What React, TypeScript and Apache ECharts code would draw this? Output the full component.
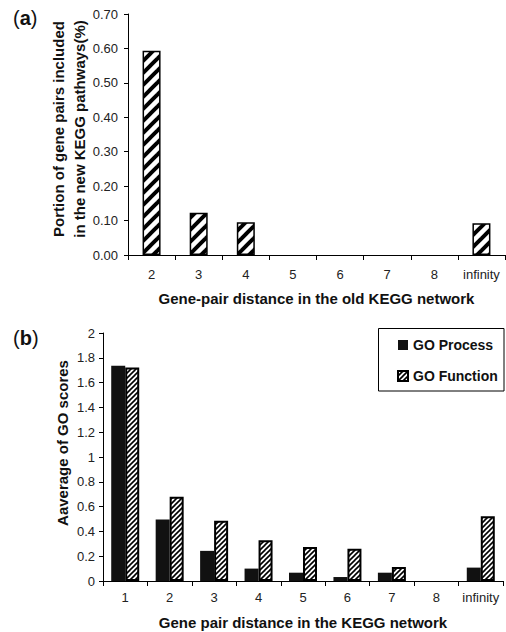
import React, { useEffect, useRef } from "react";
import * as echarts from "echarts";

const aCategories = ["2", "3", "4", "5", "6", "7", "8", "infinity"];
const aValues = [0.593, 0.123, 0.095, 0, 0, 0, 0, 0.092];
const aTicks = { min: 0, max: 0.7, interval: 0.1 };

const bCategories = ["1", "2", "3", "4", "5", "6", "7", "8", "infinity"];
const goProcess = [1.735, 0.496, 0.243, 0.1, 0.067, 0.032, 0.067, 0, 0.108];
const goFunction = [1.722, 0.679, 0.485, 0.329, 0.275, 0.26, 0.113, 0, 0.523];
const bTicks = { min: 0, max: 2, interval: 0.2 };

const FONT = "'Liberation Sans', Arial, Helvetica, sans-serif";

function makeHatch(size: number, lw: number) {
  const c = document.createElement("canvas");
  c.width = size;
  c.height = size;
  const ctx = c.getContext("2d")!;
  ctx.fillStyle = "#fff";
  ctx.fillRect(0, 0, size, size);
  ctx.strokeStyle = "#000";
  ctx.lineWidth = lw;
  for (const k of [-size, 0, size]) {
    ctx.beginPath();
    ctx.moveTo(k - 2, size + 2);
    ctx.lineTo(k + size + 2, -2);
    ctx.stroke();
  }
  return c;
}

const noZero = (arr: number[]) => arr.map((v) => (v === 0 ? "-" : v));

export default function App() {
  const ref = useRef<HTMLDivElement>(null);
  useEffect(() => {
    if (!ref.current) return;
    const chart = echarts.init(ref.current, null, { renderer: "svg" });
    const bigHatch = makeHatch(12, 4);
    const fineHatch = makeHatch(5, 1.6);
    const axisLine = { show: true, lineStyle: { color: "#000", width: 1 } };
    const tickLabel = { color: "#222", fontSize: 13, fontFamily: FONT };
    const titleStyle = { color: "#111", fontSize: 15, fontWeight: "bold" as const, fontFamily: FONT };
    const option: any = {
      animation: false,
      backgroundColor: "#fff",
      textStyle: { fontFamily: FONT },
      grid: [
        { left: 128, top: 14, width: 377, height: 241, containLabel: false, outerBoundsMode: "none" },
        { left: 103, top: 333, width: 400, height: 248, containLabel: false, outerBoundsMode: "none" },
      ],
      xAxis: [
        {
          type: "category",
          gridIndex: 0,
          data: aCategories,
          axisLine,
          axisTick: { show: true, length: 5, alignWithLabel: false, lineStyle: { color: "#000" } },
          axisLabel: { ...tickLabel, margin: 13, interval: 0 },
          name: "Gene-pair distance in the old KEGG network",
          nameLocation: "middle",
          nameGap: 36,
          nameTextStyle: titleStyle,
        },
        {
          type: "category",
          gridIndex: 1,
          data: bCategories,
          axisLine,
          axisTick: { show: true, length: 5, alignWithLabel: false, lineStyle: { color: "#000" } },
          axisLabel: { ...tickLabel, margin: 10, interval: 0 },
          name: "Gene pair distance in the KEGG network",
          nameLocation: "middle",
          nameGap: 34,
          nameTextStyle: titleStyle,
        },
      ],
      yAxis: [
        {
          type: "value",
          gridIndex: 0,
          ...aTicks,
          axisLine,
          axisTick: { show: true, length: 4, lineStyle: { color: "#000" } },
          axisLabel: { ...tickLabel, margin: 10, formatter: (v: number) => v.toFixed(2) },
          splitLine: { show: false },
        },
        {
          type: "value",
          gridIndex: 1,
          ...bTicks,
          axisLine,
          axisTick: { show: true, length: 4, lineStyle: { color: "#000" } },
          axisLabel: { ...tickLabel, margin: 8 },
          splitLine: { show: false },
        },
      ],
      legend: {
        orient: "vertical",
        left: 378,
        top: 328,
        icon: "rect",
        itemWidth: 10,
        itemHeight: 10,
        itemGap: 17,
        padding: [10, 4, 8, 19],
        borderWidth: 0,
        textStyle: { color: "#111", fontSize: 14, fontWeight: "bold", fontFamily: FONT },
        data: ["GO Process", "GO Function"],
      },
      series: [
        {
          type: "bar",
          name: "distance",
          xAxisIndex: 0,
          yAxisIndex: 0,
          data: noZero(aValues),
          barWidth: 18,
          itemStyle: {
            color: { image: bigHatch, repeat: "repeat", imageWidth: 12, imageHeight: 12 },
            borderColor: "#000",
            borderWidth: 1.5,
          },
        },
        {
          type: "bar",
          name: "GO Process",
          xAxisIndex: 1,
          yAxisIndex: 1,
          data: noZero(goProcess),
          barWidth: 14,
          barGap: "0%",
          itemStyle: { color: "#111", borderColor: "#000", borderWidth: 0 },
        },
        {
          type: "bar",
          name: "GO Function",
          xAxisIndex: 1,
          yAxisIndex: 1,
          data: noZero(goFunction),
          barWidth: 14,
          barGap: "0%",
          itemStyle: {
            color: { image: fineHatch, repeat: "repeat", imageWidth: 5, imageHeight: 5 },
            borderColor: "#000",
            borderWidth: 2,
          },
        },
      ],
      graphic: [
        {
          type: "rect",
          shape: { x: 378.5, y: 328.5, width: 125.5, height: 62.5 },
          style: { fill: "none", stroke: "#000", lineWidth: 1 },
          silent: true,
        },
        {
          type: "text",
          x: 68.5,
          y: 129,
          rotation: Math.PI / 2,
          style: {
            text: "Portion of gene pairs included\nin the new KEGG pathways(%)",
            fill: "#111",
            font: `bold 15px ${FONT}`,
            lineHeight: 21,
            align: "center",
            verticalAlign: "middle",
            textAlign: "center",
            textVerticalAlign: "middle",
          },
        },
        {
          type: "text",
          x: 62,
          y: 443,
          rotation: Math.PI / 2,
          style: {
            text: "Aaverage of GO scores",
            fill: "#111",
            font: `bold 15px ${FONT}`,
            align: "center",
            verticalAlign: "middle",
            textAlign: "center",
            textVerticalAlign: "middle",
          },
        },
        {
          type: "text",
          x: 13,
          y: 18,
          style: {
            text: "{n|(}{b|a}{n|)}",
            verticalAlign: "middle",
            textVerticalAlign: "middle",
            rich: {
              n: { fontSize: 20, fontFamily: FONT, fill: "#111", color: "#111" },
              b: { fontSize: 20, fontWeight: "bold", fontFamily: FONT, fill: "#111", color: "#111" },
            },
          },
        },
        {
          type: "text",
          x: 13,
          y: 338,
          style: {
            text: "{n|(}{b|b}{n|)}",
            verticalAlign: "middle",
            textVerticalAlign: "middle",
            rich: {
              n: { fontSize: 20, fontFamily: FONT, fill: "#111", color: "#111" },
              b: { fontSize: 20, fontWeight: "bold", fontFamily: FONT, fill: "#111", color: "#111" },
            },
          },
        },
      ],
    };
    chart.setOption(option);
    return () => chart.dispose();
  }, []);
  return (
    <div
      ref={ref}
      style={{ position: "fixed", left: 0, top: 0, width: 506, height: 632, background: "#fff" }}
    />
  );
}
